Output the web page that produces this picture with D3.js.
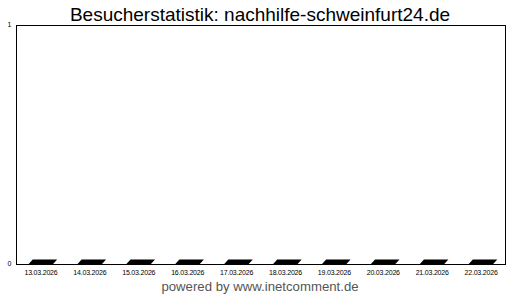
<!DOCTYPE html>
<html><head><meta charset="utf-8">
<script src="https://cdn.jsdelivr.net/npm/d3@7"></script>
<style>html,body{margin:0;padding:0;background:#fff}svg{display:block}</style>
</head><body>
<svg id="c" width="520" height="300"></svg>
<script>
const categories = ["13.03.2026","14.03.2026","15.03.2026","16.03.2026","17.03.2026","18.03.2026","19.03.2026","20.03.2026","21.03.2026","22.03.2026"];
const visitors = [0,0,0,0,0,0,0,0,0,0];
const yTicks = [0,1];

const svg = d3.select("#c");
const m = {l:16.5, r:505.5, t:25.5, b:264.5};
const x = d3.scaleBand().domain(categories).range([m.l, m.r]).paddingInner(0.5).paddingOuter(0.25);
const y = d3.scaleLinear().domain([0,1]).range([m.b, m.t]);

svg.append("text").attr("x",260).attr("y",21).attr("text-anchor","middle")
  .attr("font-family","Liberation Sans, Arial, sans-serif").attr("font-size",19).attr("fill","#000")
  .text("Besucherstatistik: nachhilfe-schweinfurt24.de");

svg.append("rect").attr("x",m.l).attr("y",m.t).attr("width",m.r-m.l).attr("height",m.b-m.t)
  .attr("fill","none").attr("stroke","#000").attr("stroke-width",1);

const depth = 5;
const g = svg.append("g");
categories.forEach((c,i)=>{
  const x0 = x(c), w = x.bandwidth(), y0 = y(visitors[i]), yb = y(0);
  const pts = [[x0-1, yb+0.5],[x0+w-1, yb+0.5],[x0+w+depth-1, y0-depth],[x0+depth-1, y0-depth]];
  g.append("path").attr("d", d3.line()(pts)+"Z").attr("fill","#000");
});

const ax = d3.axisBottom(x).tickSize(0).tickPadding(6);
const axg = svg.append("g").attr("transform",`translate(0,${m.b})`).call(ax);
axg.select(".domain").remove();
axg.selectAll("text").attr("font-family","Liberation Sans, Arial, sans-serif").attr("font-size",7).attr("fill","#000").attr("letter-spacing","-0.2");

const ay = d3.axisLeft(y).tickValues(yTicks).tickFormat(d3.format("d")).tickSize(0).tickPadding(5);
const ayg = svg.append("g").attr("transform",`translate(${m.l},0)`).call(ay);
ayg.select(".domain").remove();
ayg.selectAll("text").attr("font-family","Liberation Sans, Arial, sans-serif").attr("font-size",7).attr("fill","#000").attr("dy","0.1em");

svg.append("text").attr("x",260).attr("y",291).attr("text-anchor","middle")
  .attr("font-family","Liberation Sans, Arial, sans-serif").attr("font-size",13.2).attr("fill","#555")
  .text("powered by www.inetcomment.de");
</script>
</body></html>
